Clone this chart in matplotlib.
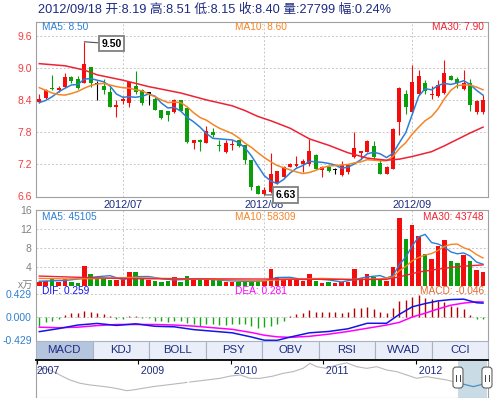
import numpy as np
import matplotlib
matplotlib.use("Agg")
import matplotlib.pyplot as plt
from matplotlib.patches import Rectangle, FancyBboxPatch
from matplotlib.lines import Line2D
from matplotlib.transforms import IdentityTransform

plt.rcParams['font.family'] = ['Liberation Sans', 'Noto Sans CJK SC', 'DejaVu Sans']

# daily k-line 2012-06-12 .. 2012-09-18
opens = [8.38, 8.45, 8.64, 8.60, 8.65, 8.84, 8.81, 8.72, 9.02, 8.70,
         8.67, 8.56, 8.28, 8.39, 8.35, 8.67, 8.60, 8.53, 8.42, 8.22,
         8.20, 8.18, 8.40, 8.25, 7.60, 7.66, 7.60, 7.81, 7.57, 7.43,
         7.57, 7.65, 7.56, 7.29, 6.80, 6.64, 6.69, 6.85, 6.97, 7.16,
         7.18, 7.21, 7.20, 7.37, 7.10, 7.16, 7.10, 7.01, 7.06, 7.34,
         7.41, 7.44, 7.54, 7.22, 7.03, 7.12, 8.00, 8.52, 8.18, 8.52,
         8.73, 8.50, 8.48, 8.54, 8.86, 8.81, 8.62, 8.73, 8.18, 8.19]
highs = [8.53, 8.62, 8.87, 8.67, 8.92, 8.86, 8.86, 9.50, 9.02, 8.76,
         8.81, 8.65, 8.40, 8.48, 8.77, 8.96, 8.62, 8.56, 8.47, 8.23,
         8.21, 8.43, 8.40, 8.25, 7.65, 7.67, 7.93, 7.89, 7.65, 7.65,
         7.66, 7.66, 7.56, 7.29, 6.81, 6.77, 7.41, 7.08, 7.18, 7.22,
         7.35, 7.30, 7.68, 7.39, 7.18, 7.18, 7.13, 7.27, 7.21, 7.80,
         7.46, 7.65, 7.64, 7.30, 7.17, 7.88, 8.66, 8.60, 9.07, 8.97,
         8.79, 8.67, 8.78, 9.16, 8.87, 8.84, 8.97, 8.81, 8.40, 8.51]
lows = [8.36, 8.43, 8.60, 8.55, 8.64, 8.72, 8.62, 8.72, 8.65, 8.40,
        8.52, 8.27, 8.09, 8.33, 8.27, 8.53, 8.31, 8.31, 8.22, 8.06,
        8.01, 8.16, 8.20, 7.61, 7.49, 7.46, 7.60, 7.71, 7.46, 7.41,
        7.47, 7.52, 7.21, 6.72, 6.64, 6.63, 6.67, 6.84, 6.96, 7.15,
        7.15, 7.06, 7.18, 7.12, 6.97, 7.05, 7.02, 6.99, 7.03, 7.32,
        7.30, 7.43, 7.30, 7.02, 7.02, 7.11, 7.75, 8.14, 8.15, 8.50,
        8.52, 8.43, 8.47, 8.53, 8.78, 8.64, 8.60, 8.21, 8.14, 8.15]
closes = [8.43, 8.60, 8.62, 8.64, 8.84, 8.77, 8.64, 9.09, 8.72, 8.70,
          8.59, 8.27, 8.31, 8.42, 8.74, 8.56, 8.35, 8.53, 8.22, 8.07,
          8.12, 8.40, 8.21, 7.62, 7.65, 7.62, 7.82, 7.76, 7.54, 7.60,
          7.59, 7.54, 7.29, 6.77, 6.64, 6.72, 7.02, 7.07, 7.16, 7.21,
          7.19, 7.26, 7.46, 7.12, 7.15, 7.07, 7.10, 7.19, 7.19, 7.51,
          7.46, 7.64, 7.34, 7.03, 7.16, 7.87, 8.64, 8.28, 8.75, 8.86,
          8.58, 8.53, 8.69, 8.92, 8.79, 8.73, 8.73, 8.31, 8.39, 8.40]

ma5 = [8.36, 8.40, 8.47, 8.56, 8.63, 8.69, 8.70, 8.80, 8.81, 8.78,
       8.75, 8.67, 8.52, 8.46, 8.47, 8.46, 8.48, 8.52, 8.48, 8.35,
       8.26, 8.27, 8.20, 8.08, 8.00, 7.90, 7.78, 7.69, 7.68, 7.67,
       7.66, 7.61, 7.51, 7.36, 7.17, 6.99, 6.89, 6.84, 6.92, 7.04,
       7.13, 7.18, 7.26, 7.25, 7.24, 7.22, 7.19, 7.13, 7.15, 7.21,
       7.29, 7.40, 7.43, 7.40, 7.33, 7.41, 7.61, 7.80, 8.14, 8.48,
       8.62, 8.60, 8.68, 8.72, 8.70, 8.73, 8.77, 8.70, 8.59, 8.50]
ma10 = [8.64, 8.59, 8.54, 8.51, 8.50, 8.53, 8.57, 8.63, 8.68, 8.71,
        8.72, 8.69, 8.66, 8.64, 8.63, 8.60, 8.58, 8.52, 8.47, 8.41,
        8.36, 8.37, 8.36, 8.28, 8.17, 8.08, 8.03, 7.95, 7.88, 7.83,
        7.78, 7.70, 7.60, 7.52, 7.42, 7.33, 7.25, 7.18, 7.14, 7.10,
        7.06, 7.03, 7.05, 7.09, 7.14, 7.17, 7.18, 7.19, 7.20, 7.23,
        7.25, 7.29, 7.28, 7.27, 7.27, 7.35, 7.50, 7.61, 7.77, 7.90,
        8.02, 8.10, 8.24, 8.43, 8.59, 8.68, 8.69, 8.69, 8.65, 8.60]
ma30_idx = [0, 4, 7, 9, 13, 17, 22, 26, 30, 32, 34, 36, 39, 42, 45, 48,
            51, 54, 56, 58, 61, 63, 65, 67, 69]
ma30 = [9.09, 9.05, 8.97, 8.88, 8.78, 8.66, 8.54, 8.41, 8.30, 8.21, 8.10,
        8.02, 7.88, 7.68, 7.56, 7.42, 7.32, 7.28, 7.30, 7.35, 7.44, 7.55,
        7.67, 7.79, 7.90]

# volume in 万 shares
volume = [0.8, 0.9, 1.5, 0.8, 1.3, 0.8, 0.6, 4.1, 2.5, 1.3,
          1.3, 1.2, 1.2, 1.2, 2.9, 2.9, 1.3, 1.2, 1.0, 0.8,
          1.0, 1.9, 0.8, 2.0, 1.1, 1.1, 1.1, 1.1, 1.1, 0.8,
          0.8, 0.8, 0.8, 1.1, 1.1, 1.1, 3.5, 1.7, 1.2, 1.2,
          1.2, 1.0, 2.5, 1.0, 0.6, 0.8, 0.5, 0.8, 0.8, 3.5,
          1.5, 2.5, 1.9, 1.1, 0.9, 4.0, 14.3, 9.9, 12.9, 10.4,
          6.7, 5.6, 8.4, 9.7, 5.2, 4.7, 6.5, 5.1, 3.3, 2.78]
vma5_idx = [0, 2, 4, 7, 9, 11, 13, 15, 17, 19, 21, 23, 25, 27, 29, 31, 33, 35,
            37, 39, 41, 43, 45, 47, 49, 51, 53, 54, 55, 56, 57, 58, 59, 60, 61,
            62, 63, 64, 65, 66, 67, 68, 69]
vma5 = [0.9, 1.0, 1.06, 1.52, 1.86, 2.08, 1.24, 1.88, 1.9, 1.44, 1.18, 1.3,
        1.38, 1.28, 1.04, 0.92, 0.86, 0.98, 1.7, 1.74, 1.26, 1.38, 1.18, 0.74,
        1.28, 1.82, 2.1, 1.58, 2.08, 4.44, 6.04, 8.4, 10.3, 10.84, 9.1, 8.8,
        8.16, 7.12, 6.72, 6.9, 6.24, 4.96, 4.51]
vma10_idx = [0, 4, 9, 14, 19, 24, 29, 34, 39, 44, 49, 53, 55, 56, 57, 58, 59,
             60, 61, 62, 63, 64, 65, 66, 67, 68, 69]
vma10 = [1.5, 1.4, 1.46, 1.71, 1.52, 1.4, 1.21, 0.98, 1.33, 1.5, 1.27, 1.4,
         1.75, 3.13, 4.04, 5.25, 5.94, 6.46, 6.77, 7.42, 8.28, 8.71, 8.78,
         8.0, 7.52, 6.56, 5.83]
vma30_idx = [0, 7, 14, 21, 29, 39, 49, 54, 56, 59, 62, 65, 69]
vma30 = [2.0, 1.7, 1.45, 1.4, 1.40, 1.35, 1.27, 1.3, 1.84, 2.85, 3.46, 4.0, 4.37]

# MACD
macd = [-0.165, -0.10, -0.066, -0.033, 0.033, 0.066, 0.08, 0.12, 0.10, 0.08,
        0.053, 0.013, -0.033, -0.046, 0.013, 0.026, -0.013, -0.02, -0.066, -0.08,
        -0.10, -0.066, -0.066, -0.12, -0.13, -0.165, -0.13, -0.13, -0.145, -0.15,
        -0.13, -0.13, -0.13, -0.165, -0.20, -0.185, -0.165, -0.13, -0.066, 0.01,
        0.053, 0.08, 0.13, 0.10, 0.10, 0.10, 0.10, 0.08, 0.10, 0.165,
        0.165, 0.185, 0.145, 0.10, 0.066, 0.165, 0.30, 0.32, 0.38, 0.41,
        0.36, 0.33, 0.30, 0.28, 0.21, 0.185, 0.145, 0.033, -0.033, -0.046]
line_idx = [0, 3, 6, 9, 12, 15, 18, 21, 24, 27, 30, 33, 35, 37, 39, 42, 45,
            48, 51, 54, 56, 58, 60, 62, 64, 66, 68, 69]
dif = [-0.273, -0.217, -0.15, -0.12, -0.157, -0.127, -0.173, -0.183, -0.235,
       -0.265, -0.295, -0.373, -0.433, -0.435, -0.375, -0.295, -0.27, -0.22,
       -0.117, -0.117, 0.05, 0.19, 0.25, 0.30, 0.325, 0.333, 0.266, 0.259]
dea = [-0.19, -0.20, -0.19, -0.16, -0.14, -0.14, -0.14, -0.15, -0.17, -0.20,
       -0.23, -0.29, -0.34, -0.37, -0.38, -0.36, -0.32, -0.27, -0.21, -0.15,
       -0.10, 0.0, 0.07, 0.15, 0.22, 0.26, 0.283, 0.281]

month_pos = [13, 35, 58]
month_labels = ['2012/07', '2012/08', '2012/09']
tabs = ['MACD', 'KDJ', 'BOLL', 'PSY', 'OBV', 'RSI', 'WVAD', 'CCI']

# overview (2007 - 2012)
hist_year = [2007.906, 2007.974, 2008.049, 2008.122, 2008.19, 2008.265, 2008.373,
             2008.481, 2008.589, 2008.697, 2008.805, 2008.877, 2008.945, 2009.053,
             2009.161, 2009.309, 2009.452, 2009.592, 2009.74, 2009.884, 2009.992,
             2010.10, 2010.208, 2010.316, 2010.456, 2010.564, 2010.672, 2010.78,
             2010.855, 2010.927, 2011.035, 2011.143, 2011.251, 2011.359, 2011.467,
             2011.575, 2011.683, 2011.791, 2011.899, 2012.006, 2012.114, 2012.222,
             2012.33, 2012.401, 2012.473]
hist_price = [18.6, 19.5, 18.6, 16.8, 15.0, 13.2, 11.4, 10.5, 9.9, 9.2, 8.2, 7.4,
              7.8, 8.7, 9.6, 10.5, 11.4, 12.3, 13.2, 14.1, 15.3, 15.9, 14.1, 14.1,
              15.3, 16.8, 17.7, 19.5, 22.2, 20.4, 19.5, 21.3, 22.5, 20.4, 19.5,
              20.4, 18.6, 17.7, 15.9, 14.1, 15.0, 14.1, 13.2, 12.3, 11.4]
sel_year = [2012.473, 2012.545, 2012.617, 2012.689, 2012.743]
sel_price = [11.4, 10.5, 9.6, 10.5, 11.4]
year_ticks = [2007.906, 2009, 2010, 2011, 2012]
year_labels = ['2007', '2009', '2010', '2011', '2012']
sel_start, sel_end = 2012.452, 2012.765

W, H = 493, 398
fig = plt.figure(figsize=(W / 100, H / 100), dpi=100)

def px_axes(x0, y0, x1, y1):
    return fig.add_axes([x0 / W, 1 - y1 / H, (x1 - x0) / W, (y1 - y0) / H])

def px_text(x, y, s, **kw):
    kw.setdefault('va', 'center')
    return fig.text(x / W, 1 - y / H, s, **kw)

FRAME = '#a0a0a0'
GRID = '#c8c8c8'
RED = '#f40d0d'
GREEN = '#0a9e0a'
NAVY = '#1c2a80'
C5, C10, C30 = '#2b7fd6', '#f58426', '#ee2232'
XLIM = (-0.51, 69.78)

days = np.arange(len(closes))
o, h, l, c = map(np.array, (opens, highs, lows, closes))
prev = np.r_[c[0], c[:-1]]
cand_col = [RED if a > b else GREEN if a < b else 'black' for a, b in zip(c, o)]
vol_col = [RED if (a > b or (a == b and a >= p)) else GREEN for a, b, p in zip(c, o, prev)]

def dashed_grid(a, ys, xs):
    for y in ys:
        a.axhline(y, color=GRID, lw=0.7, ls=(0, (2, 2)), zorder=0)
    for x in xs:
        a.axvline(x, color=GRID, lw=0.7, ls=(0, (2, 2)), zorder=0)

# ---- price panel
ax = px_axes(36, 21.5, 488, 196.5)
ax.set_xlim(*XLIM)
ax.set_ylim(6.6, 9.88)
dashed_grid(ax, [7.2, 7.8, 8.4, 9.0, 9.6], month_pos)
ax.vlines(days, l, h, colors=cand_col, lw=0.8, zorder=2)
ax.bar(days, np.maximum(np.abs(c - o), 0.02), bottom=np.minimum(o, c), width=0.62,
       color=cand_col, lw=0, zorder=3)
ax.plot(days, ma5, color=C5, lw=1.1, zorder=4)
ax.plot(days, ma10, color=C10, lw=1.1, zorder=4)
ax.plot(ma30_idx, ma30, color=C30, lw=1.1, zorder=4)
ax.set_yticks([6.6, 7.2, 7.8, 8.4, 9.0, 9.6])
ax.set_yticklabels(['6.6', '7.2', '7.8', '8.4', '9.0', '9.6'])
ax.tick_params(axis='y', length=0, pad=3, labelsize=7.5, labelcolor='#f23c3c')
ax.set_xticks(month_pos)
ax.set_xticklabels(month_labels)
ax.tick_params(axis='x', length=0, pad=2.5, labelsize=7.8, labelcolor=NAVY)
for s in ax.spines.values():
    s.set_color(FRAME)

hi, lo = int(np.argmax(h)), int(np.argmin(l))
box = dict(boxstyle='square,pad=0.25', fc='white', ec='#808080', lw=1.3)
arrow = dict(arrowstyle='-', color='#505050', lw=0.8, shrinkA=0, shrinkB=0)
ax.annotate(f'{h[hi]:.2f}', xy=(hi, h[hi]), xytext=(27, -2), textcoords='offset pixels',
            fontsize=7.5, fontweight='bold', ha='center', va='center', bbox=box,
            arrowprops=arrow, annotation_clip=False, zorder=6)
ax.annotate(f'{l[lo]:.2f}', xy=(lo, l[lo]), xytext=(21, 0), textcoords='offset pixels',
            fontsize=7.5, fontweight='bold', ha='center', va='center', bbox=box,
            arrowprops=arrow, annotation_clip=False, zorder=6)

px_text(42, 27.5, f'MA5: {ma5[-1]:.2f}', color=C5, fontsize=7.3)
px_text(235, 27.5, f'MA10: {ma10[-1]:.2f}', color=C10, fontsize=7.3)
px_text(484, 27.5, f'MA30: {ma30[-1]:.2f}', color=C30, fontsize=7.3, ha='right')

px_text(38, 10, '2012/09/18 开:8.19 高:8.51 低:8.15 收:8.40 量:27799 幅:0.24%',
        color=NAVY, fontsize=9.2)

# ---- volume panel
axv = px_axes(36, 210, 488, 285.5)
axv.set_xlim(*XLIM)
axv.set_ylim(0, 16)
dashed_grid(axv, [4, 8, 12], month_pos)
axv.bar(days, volume, width=0.7, color=vol_col, lw=0, zorder=2)
axv.plot(vma5_idx, vma5, color=C5, lw=1.0, zorder=3)
axv.plot(vma10_idx, vma10, color=C10, lw=1.0, zorder=3)
axv.plot(vma30_idx, vma30, color=C30, lw=1.0, zorder=3)
axv.set_yticks([4, 8, 12, 16])
axv.tick_params(axis='y', length=0, pad=3, labelsize=7.5, labelcolor='#808080')
axv.set_xticks([])
axv.spines['bottom'].set_visible(False)
for s in axv.spines.values():
    s.set_color(FRAME)
px_text(42, 217, 'MA5: 45105', color=C5, fontsize=7.3)
px_text(235, 217, 'MA10: 58309', color=C10, fontsize=7.3)
px_text(484, 217, 'MA30: 43748', color=C30, fontsize=7.3, ha='right')
px_text(33, 285, 'x万', color='#808080', fontsize=7.3, ha='right')

# ---- MACD panel
axm = px_axes(36, 285.5, 488, 340.7)
axm.set_xlim(*XLIM)
axm.set_ylim(-0.442, 0.5875)
dashed_grid(axm, [0.0, 0.429], [])
mc = np.array(macd)
axm.vlines(days, 0, mc, colors=['#b40000' if v > 0 else '#14a814' for v in mc], lw=1.0, zorder=2)
axm.plot(line_idx, dea, color='#ff00ff', lw=1.1, zorder=3)
axm.plot(line_idx, dif, color='#1414e6', lw=1.1, zorder=4)
axm.set_yticks([-0.429, 0.0, 0.429])
axm.set_yticklabels(['-0.429', '0.000', '0.429'])
axm.tick_params(axis='y', length=0, pad=3, labelsize=7.5, labelcolor='#2f7fd0')
axm.set_xticks([])
axm.spines['top'].set_visible(False)
axm.spines['bottom'].set_visible(False)
for s in axm.spines.values():
    s.set_color(FRAME)
px_text(42, 291.5, f'DIF: {dif[-1]:.3f}', color='#1414e6', fontsize=7.3)
px_text(235, 291.5, f'DEA: {dea[-1]:.3f}', color='#ff00ff', fontsize=7.3)
px_text(484, 291.5, f'MACD: {macd[-1]:.3f}', color='#e06a30', fontsize=7.3, ha='right')

# ---- indicator tabs
axt = px_axes(36, 340.7, 488, 359.5)
axt.set_xlim(0, len(tabs))
axt.set_ylim(0, 1)
axt.axis('off')
for i, name in enumerate(tabs):
    axt.add_patch(Rectangle((i, 0), 1, 1, fc='#b5c5de' if i == 0 else '#e9eef8',
                            ec='#a9b3c6', lw=0.8, clip_on=False))
    axt.text(i + 0.5, 0.5, name, ha='center', va='center', fontsize=8.2, color=NAVY)

# ---- overview
axo = px_axes(36, 359.5, 488, 397.5)
axo.set_xlim(2007.898, 2012.776)
axo.set_ylim(3.7, 24.3)
axo.axvspan(sel_start, sel_end, color='#c9dbe4', lw=0, zorder=0)
axo.plot(hist_year, hist_price, color='#b8b8b8', lw=0.8, zorder=1)
axo.plot(sel_year, sel_price, color='#4a8fc4', lw=0.9, zorder=2)
axo.text(0.33, 0.2, 'laserfair.com', transform=axo.transAxes, color='white',
         fontsize=15, va='center', alpha=0.9, zorder=3)
axo.set_yticks([])
axo.set_xticks(year_ticks)
axo.tick_params(axis='x', direction='in', top=True, bottom=False, length=3,
                color='black', labelbottom=False, labeltop=False)
for yr, lab in zip(year_ticks, year_labels):
    axo.text(yr, 0.69, ' ' + lab if yr > 2008 else lab, transform=axo.get_xaxis_transform(),
             ha='left', va='center', fontsize=7.6, color=NAVY)
for s in axo.spines.values():
    s.set_color(FRAME)
axo.spines['top'].set_color('black')
axo.spines['top'].set_linewidth(1.3)

fig.canvas.draw()
y_bot = axo.transAxes.transform((0, 0.25))[1]
y_top = axo.transAxes.transform((0, 0.8))[1]
for xv in (sel_start, sel_end):
    xd = axo.transData.transform((xv, 0))[0]
    fig.add_artist(FancyBboxPatch((xd - 5, y_bot), 10, y_top - y_bot,
                                  boxstyle='round,pad=0,rounding_size=3',
                                  fc='white', ec='#606060', lw=0.8,
                                  transform=IdentityTransform(), zorder=10))
    for dx in (-2, 2):
        fig.add_artist(Line2D([xd + dx, xd + dx], [y_bot + 7, y_top - 8], color='#404040',
                              lw=0.7, transform=IdentityTransform(), zorder=11))

fig.savefig('out.png', dpi=100)
